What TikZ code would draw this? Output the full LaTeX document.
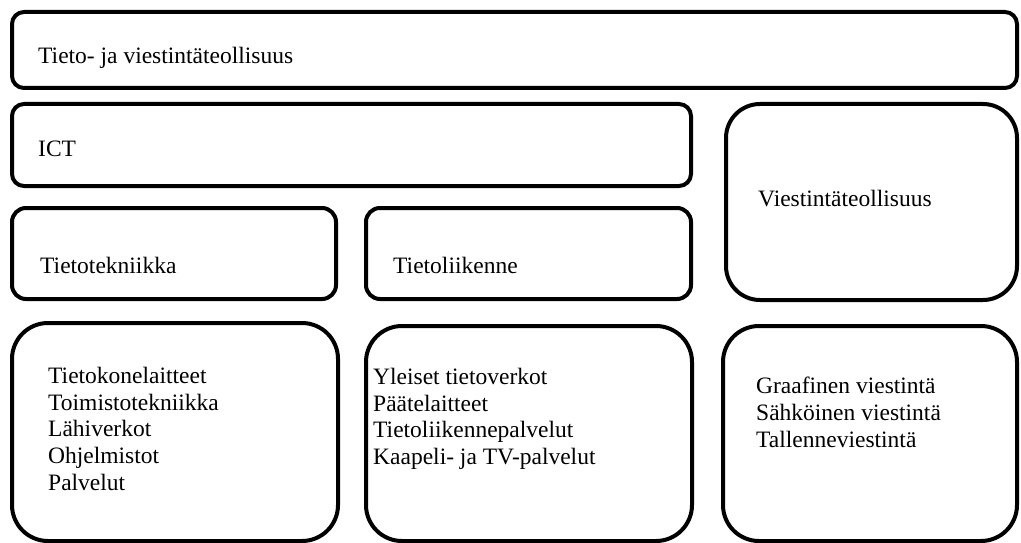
\documentclass[tikz,border=0pt]{standalone}
\usepackage{fontspec}
\setmainfont{Liberation Serif}
\begin{document}
\begin{tikzpicture}[x=1pt,y=-1pt,
  boxbase/.style={draw=black, line width=4pt, rectangle, inner sep=0pt, outer sep=0pt, anchor=north west},
  smallr/.style={boxbase, rounded corners=12pt},
  bigr/.style={boxbase, rounded corners=36pt},
  lbl/.style={anchor=base west, inner sep=0pt, font=\fontsize{23.5}{27}\selectfont},
  lst/.style={anchor=north west, inner sep=0pt, align=left, font=\fontsize{23.5}{26.7}\selectfont}]
\useasboundingbox (0,0) rectangle (1021,543);
% boxes
\node[smallr, minimum width=1005pt, minimum height=76pt] (top) at (12,12) {};
\node[smallr, minimum width=679pt, minimum height=82pt] (ict) at (12,104) {};
\node[smallr, rounded corners=14pt, minimum width=324pt, minimum height=91pt] (tt) at (12,208) {};
\node[smallr, rounded corners=14pt, minimum width=325pt, minimum height=91pt] (tl) at (366,208) {};
\node[bigr, rounded corners=34pt, minimum width=291pt, minimum height=196pt] (vi) at (726,104) {};
\node[bigr, minimum width=326pt, minimum height=218pt] (b1) at (12,323) {};
\node[bigr, minimum width=326pt, minimum height=215pt] (b2) at (366,326) {};
\node[bigr, minimum width=294pt, minimum height=215pt] (b3) at (723,326) {};
% labels
\node[lbl] (topt) at (38,64) {Tieto- ja viestintäteollisuus};
\node[lbl] (ictt) at (38,157) {ICT};
\node[lbl] (ttt) at (40,273) {Tietotekniikka};
\node[lbl] (tlt) at (393,273) {Tietoliikenne};
\node[lbl] (vit) at (758,206) {Viestintäteollisuus};
\node[lst] (b1t) at (48,367) {Tietokonelaitteet\\Toimistotekniikka\\Lähiverkot\\Ohjelmistot\\Palvelut};
\node[lst] (b2t) at (373,368) {Yleiset tietoverkot\\Päätelaitteet\\Tietoliikennepalvelut\\Kaapeli- ja TV-palvelut};
\node[lst] (b3t) at (756,377) {Graafinen viestintä\\Sähköinen viestintä\\Tallenneviestintä};
\end{tikzpicture}
\end{document}
